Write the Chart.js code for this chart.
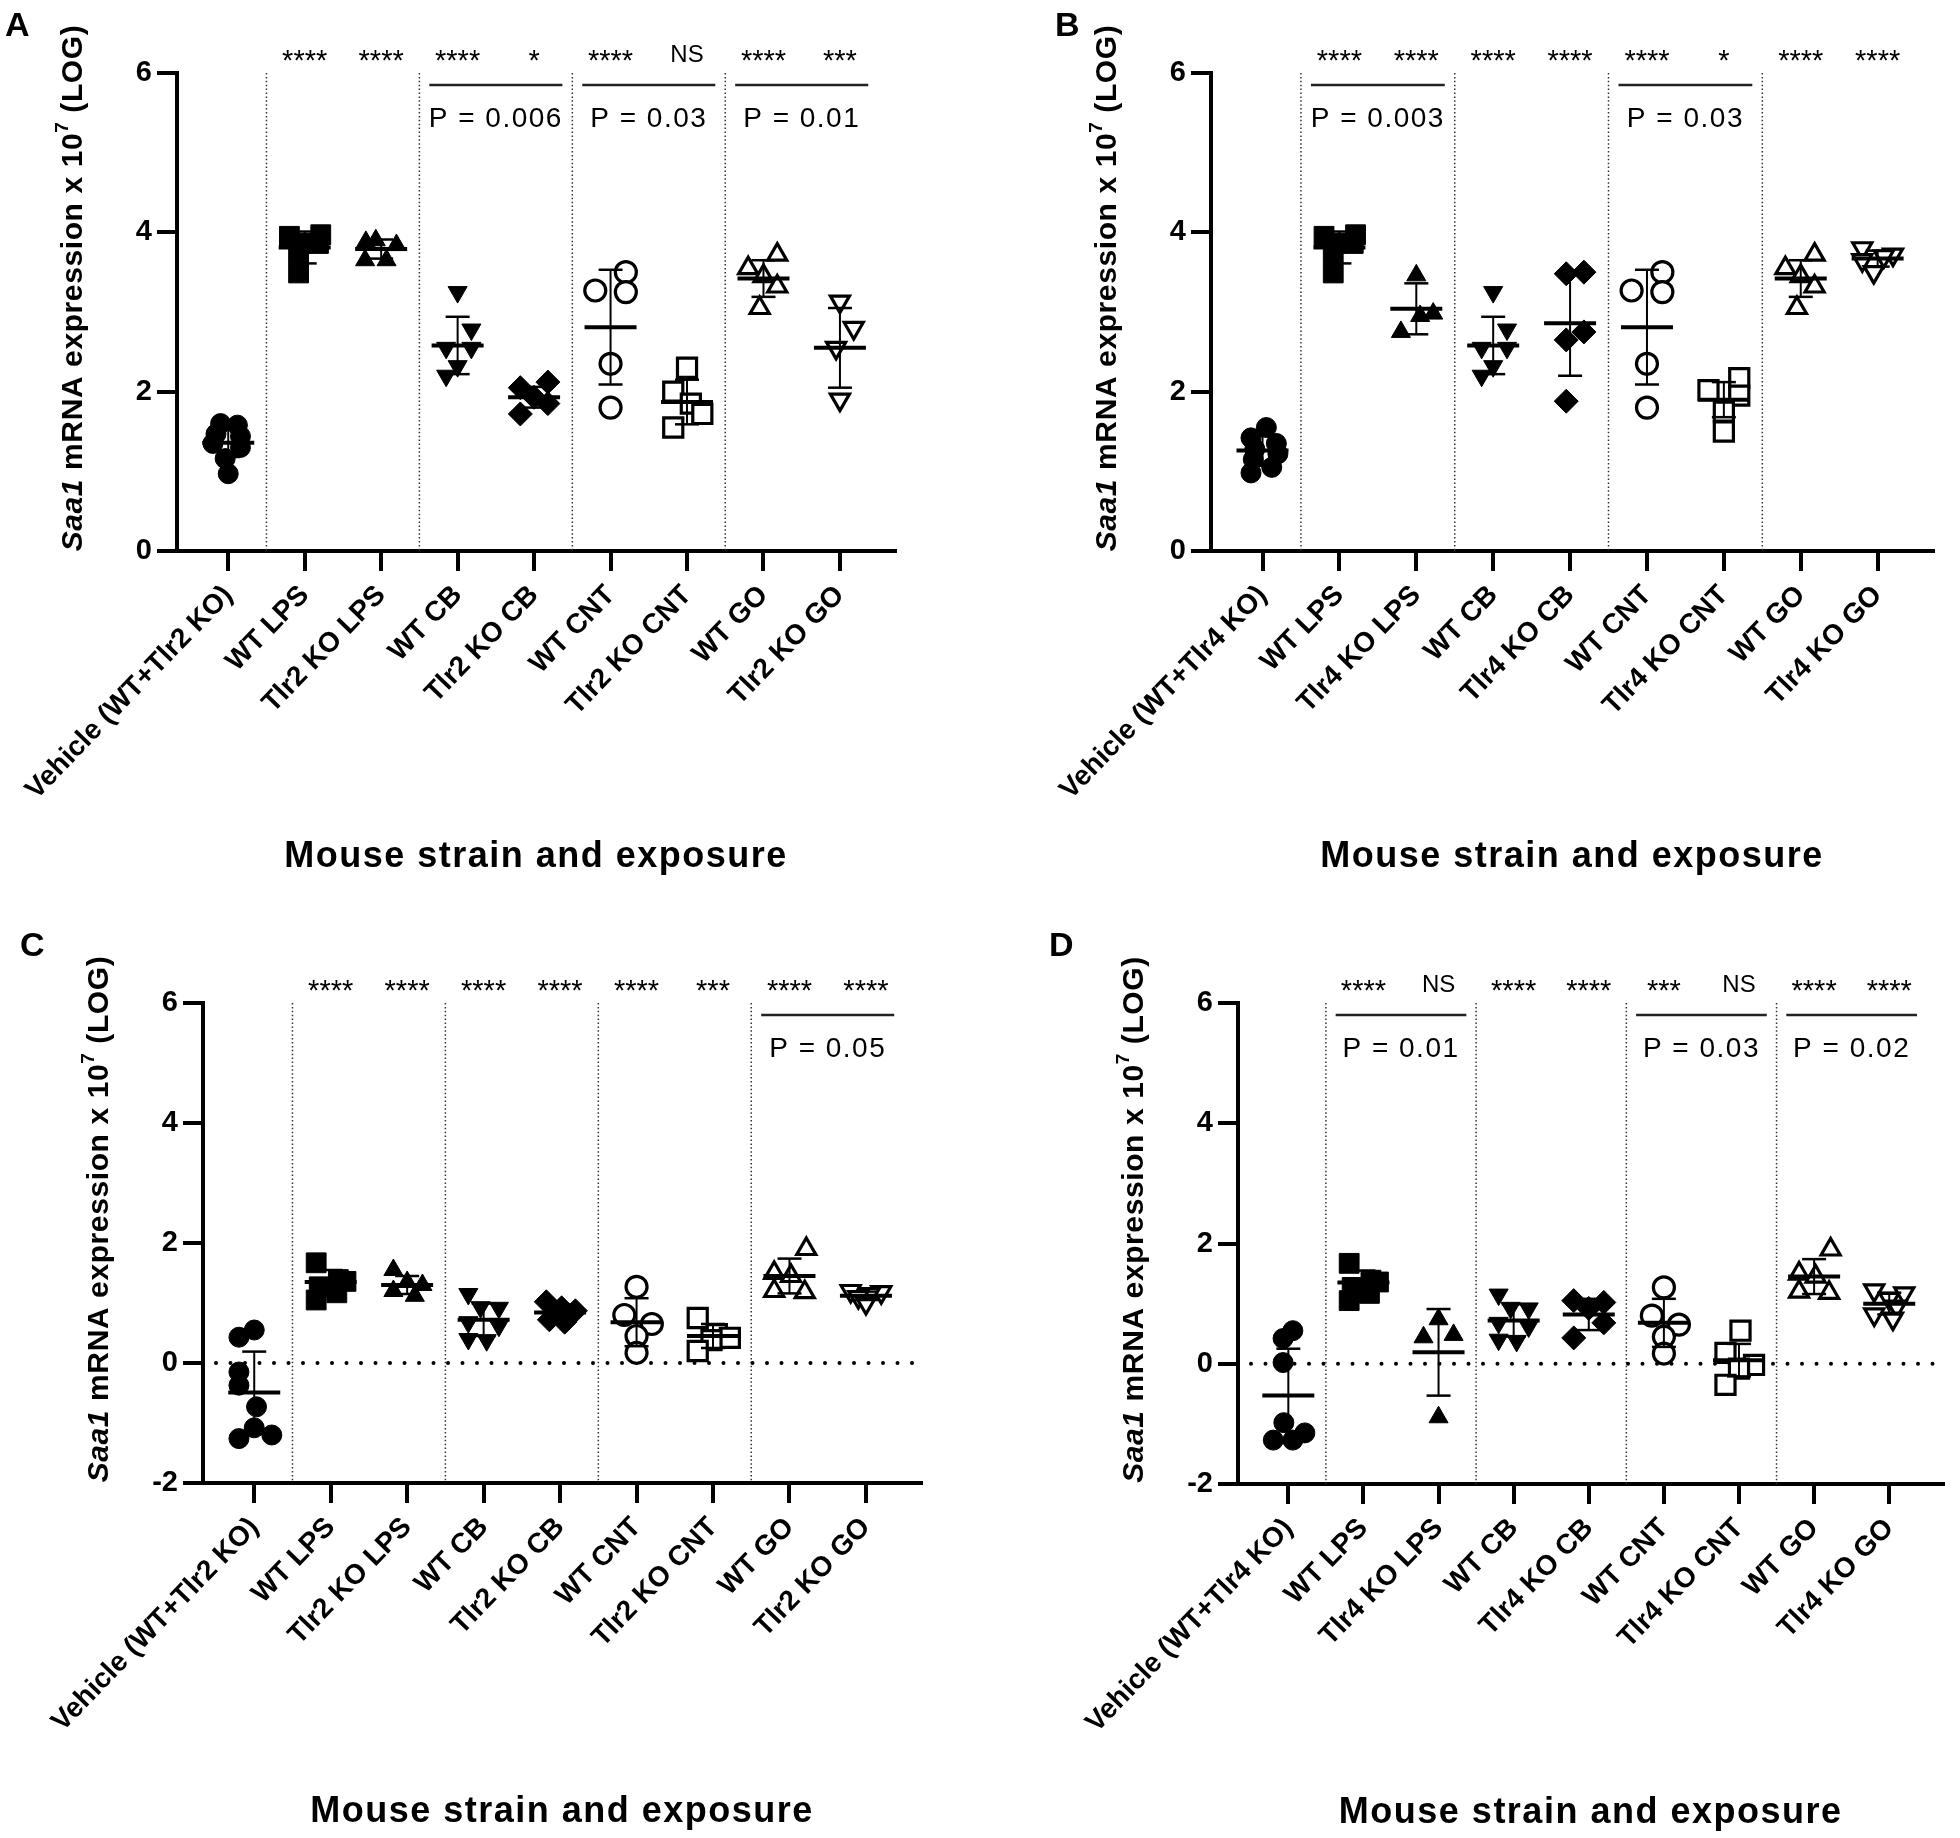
<!DOCTYPE html>
<html>
<head>
<meta charset="utf-8">
<script src="https://cdn.jsdelivr.net/npm/chart.js@4.4.0/dist/chart.umd.min.js"></script>
<style>
  body { margin: 0; background: #fff; width: 1960px; height: 1838px; position: relative; overflow: hidden; }
  canvas { position: absolute; }
</style>
</head>
<body>
<canvas id="panelA" width="980" height="920" style="left:0;top:0"></canvas>
<canvas id="panelB" width="980" height="920" style="left:980px;top:0"></canvas>
<canvas id="panelC" width="980" height="918" style="left:0;top:920px"></canvas>
<canvas id="panelD" width="980" height="918" style="left:980px;top:920px"></canvas>
<script>
const catsTlr2 = ['Vehicle (WT+Tlr2 KO)', 'WT LPS', 'Tlr2 KO LPS', 'WT CB', 'Tlr2 KO CB', 'WT CNT', 'Tlr2 KO CNT', 'WT GO', 'Tlr2 KO GO'];
const catsTlr4 = ['Vehicle (WT+Tlr4 KO)', 'WT LPS', 'Tlr4 KO LPS', 'WT CB', 'Tlr4 KO CB', 'WT CNT', 'Tlr4 KO CNT', 'WT GO', 'Tlr4 KO GO'];

// Panel A - Tlr2
const valsA = [
  [1.60, 1.58, 1.47, 1.44, 1.35, 1.30, 1.16, 0.97],
  [3.95, 3.97, 3.86, 3.86, 3.74, 3.49],
  [3.88, 3.90, 3.84, 3.65, 3.65],
  [3.25, 2.78, 2.55, 2.55, 2.32, 2.20],
  [2.12, 2.05, 1.93, 1.85, 1.72],
  [3.50, 3.27, 3.25, 2.35, 1.80],
  [2.30, 2.00, 1.85, 1.72, 1.55],
  [3.72, 3.55, 3.45, 3.32, 3.05],
  [3.13, 2.80, 2.55, 1.90]
];
const jitA = [
  [-0.10, 0.12, -0.16, 0.16, -0.20, 0.16, -0.04, 0.00],
  [-0.20, 0.21, -0.05, 0.18, -0.08, -0.08],
  [-0.20, -0.07, 0.20, -0.21, 0.07],
  [0.00, 0.18, -0.15, 0.18, 0.00, -0.15],
  [0.18, -0.18, 0.00, 0.18, -0.18],
  [0.20, -0.20, 0.20, 0.00, 0.00],
  [0.00, -0.18, 0.05, 0.20, -0.18],
  [0.18, -0.20, 0.00, 0.18, -0.05],
  [0.00, 0.18, -0.05, 0.00]
];
const meanA = [1.36, 3.81, 3.79, 2.58, 1.93, 2.81, 1.87, 3.42, 2.55];
const sdA = [0.18, 0.20, 0.12, 0.36, 0.13, 0.72, 0.28, 0.23, 0.50];
const starsA = ['', '****', '****', '****', '*', '****', 'NS', '****', '***'];
const barsA = [[3, 4, 'P = 0.006'], [5, 6, 'P = 0.03'], [7, 8, 'P = 0.01']];

// Panel B - Tlr4
const valsB = [
  [1.55, 1.42, 1.35, 1.28, 1.22, 1.15, 1.05, 0.98],
  [3.95, 3.97, 3.86, 3.86, 3.74, 3.49],
  [3.46, 2.98, 2.95, 2.75],
  [3.25, 2.78, 2.55, 2.55, 2.32, 2.20],
  [3.50, 3.48, 2.75, 2.65, 1.88],
  [3.50, 3.27, 3.25, 2.35, 1.80],
  [2.17, 2.02, 1.95, 1.75, 1.50],
  [3.72, 3.55, 3.45, 3.32, 3.05],
  [3.80, 3.72, 3.70, 3.65, 3.50]
];
const jitB = [
  [0.05, -0.15, 0.18, -0.10, 0.20, -0.12, 0.12, -0.15],
  [-0.20, 0.21, -0.05, 0.18, -0.08, -0.08],
  [0.00, 0.22, 0.05, -0.20],
  [0.00, 0.18, -0.15, 0.18, 0.00, -0.15],
  [0.18, -0.05, 0.18, -0.05, -0.05],
  [0.20, -0.20, 0.20, 0.00, 0.00],
  [0.20, -0.20, 0.20, 0.00, 0.00],
  [0.18, -0.20, 0.00, 0.18, -0.05],
  [-0.20, 0.20, 0.08, -0.20, -0.05]
];
const meanB = [1.26, 3.81, 3.04, 2.58, 2.86, 2.81, 1.90, 3.42, 3.67];
const sdB = [0.19, 0.20, 0.32, 0.36, 0.66, 0.72, 0.22, 0.23, 0.10];
const starsB = ['', '****', '****', '****', '****', '****', '*', '****', '****'];
const barsB = [[1, 2, 'P = 0.003'], [5, 6, 'P = 0.03']];

// Panel C - Tlr2
const valsC = [
  [0.55, 0.43, -0.15, -0.37, -0.73, -1.08, -1.26, -1.20],
  [1.67, 1.39, 1.36, 1.27, 1.17, 1.05],
  [1.55, 1.35, 1.30, 1.20, 1.12],
  [1.15, 0.93, 0.92, 0.68, 0.62, 0.40, 0.38],
  [1.02, 0.92, 0.87, 0.72, 0.68],
  [1.27, 0.80, 0.65, 0.45, 0.17],
  [0.75, 0.48, 0.42, 0.38, 0.20],
  [1.90, 1.50, 1.45, 1.20, 1.18],
  [1.20, 1.18, 1.15, 1.10, 1.00]
];
const jitC = [
  [0.00, -0.20, -0.20, -0.20, 0.03, 0.00, -0.20, 0.23],
  [-0.19, 0.10, 0.20, -0.15, 0.08, -0.19],
  [-0.18, 0.00, 0.20, -0.18, 0.10],
  [-0.20, -0.04, 0.20, -0.20, 0.20, -0.20, 0.04],
  [-0.18, 0.02, 0.20, -0.14, 0.06],
  [0.00, -0.16, 0.20, 0.00, 0.00],
  [-0.20, 0.05, 0.22, -0.02, -0.20],
  [0.22, -0.20, 0.02, -0.20, 0.20],
  [-0.20, 0.20, 0.05, -0.10, 0.00]
];
const meanC = [-0.49, 1.35, 1.30, 0.72, 0.84, 0.68, 0.45, 1.45, 1.12];
const sdC = [0.68, 0.20, 0.15, 0.27, 0.14, 0.40, 0.20, 0.29, 0.07];
const starsC = ['', '****', '****', '****', '****', '****', '***', '****', '****'];
const barsC = [[7, 8, 'P = 0.05']];

// Panel D - Tlr4
const valsD = [
  [0.55, 0.42, 0.02, -0.98, -1.15, -1.27, -1.27],
  [1.67, 1.39, 1.36, 1.27, 1.17, 1.05],
  [0.74, 0.48, 0.44, -0.89],
  [1.15, 0.93, 0.92, 0.68, 0.62, 0.40, 0.38],
  [1.05, 1.02, 0.92, 0.68, 0.43],
  [1.27, 0.80, 0.65, 0.45, 0.17],
  [0.55, 0.18, -0.02, -0.08, -0.35],
  [1.90, 1.50, 1.45, 1.20, 1.18],
  [1.22, 1.17, 1.08, 0.95, 0.82, 0.75]
];
const jitD = [
  [0.06, -0.07, -0.07, -0.06, 0.22, -0.20, 0.06],
  [-0.19, 0.10, 0.20, -0.15, 0.08, -0.19],
  [0.00, 0.20, -0.20, 0.00],
  [-0.20, -0.04, 0.20, -0.20, 0.20, -0.20, 0.04],
  [-0.20, 0.20, 0.00, 0.20, -0.20],
  [0.00, -0.16, 0.20, 0.00, 0.00],
  [0.02, -0.18, 0.20, 0.00, -0.18],
  [0.22, -0.20, 0.02, -0.20, 0.20],
  [-0.20, 0.20, 0.00, 0.10, -0.20, 0.05]
];
const meanD = [-0.53, 1.35, 0.19, 0.72, 0.82, 0.68, 0.06, 1.45, 1.00];
const sdD = [0.78, 0.20, 0.72, 0.27, 0.26, 0.40, 0.27, 0.29, 0.18];
const starsD = ['', '****', 'NS', '****', '****', '***', 'NS', '****', '****'];
const barsD = [[1, 2, 'P = 0.01'], [5, 6, 'P = 0.03'], [7, 8, 'P = 0.02']];

// marker look per group (same order in every panel)
const markerStyle = ['circle', 'rect', 'triangle', 'triangle', 'rectRot', 'circle', 'rect', 'triangle', 'triangle'];
const markerRot = [0, 0, 0, 180, 0, 0, 0, 0, 180];
const markerFilled = [true, true, true, true, true, false, false, false, false];
const markerRadius = [10, 14, 11, 11, 12, 10.5, 13.5, 11, 11];

const FONT = "'Liberation Sans', Arial, Helvetica, sans-serif";

function line(ctx, x1, y1, x2, y2) {
  ctx.beginPath();
  ctx.moveTo(x1, y1);
  ctx.lineTo(x2, y2);
  ctx.stroke();
}

const decorPlugin = {
  id: 'decor',
  beforeDatasetsDraw(chart, args, opts) {
    const ctx = chart.ctx, area = chart.chartArea;
    const xs = chart.scales.x, ys = chart.scales.y;
    ctx.save();
    // dotted separators between groups
    ctx.strokeStyle = '#333';
    ctx.lineWidth = 1.5;
    ctx.setLineDash([1.5, 2.4]);
    [0.5, 2.5, 4.5, 6.5].forEach(v => {
      const px = xs.getPixelForValue(v);
      line(ctx, px, area.top, px, area.bottom);
    });
    // dotted zero line
    if (opts.zeroLine) {
      const py = ys.getPixelForValue(0);
      ctx.strokeStyle = '#000';
      ctx.lineWidth = 4;
      ctx.lineCap = 'round';
      ctx.setLineDash([0, 14.5]);
      line(ctx, area.left + 13, py, area.right, py);
    }
    ctx.restore();
  },
  afterDatasetsDraw(chart, args, opts) {
    const ctx = chart.ctx;
    const xs = chart.scales.x, ys = chart.scales.y;
    ctx.save();
    ctx.strokeStyle = '#000';
    opts.means.forEach((m, i) => {
      const cx = xs.getPixelForValue(i);
      const ym = ys.getPixelForValue(m);
      const yt = ys.getPixelForValue(m + opts.sds[i]);
      const yb = ys.getPixelForValue(m - opts.sds[i]);
      ctx.lineWidth = 2;
      line(ctx, cx, yt, cx, yb);
      ctx.lineWidth = 2.5;
      line(ctx, cx - 12, yt, cx + 12, yt);
      line(ctx, cx - 12, yb, cx + 12, yb);
      ctx.lineWidth = 4;
      line(ctx, cx - 26, ym, cx + 26, ym);
    });
    ctx.restore();
  },
  afterDraw(chart, args, opts) {
    const ctx = chart.ctx, area = chart.chartArea;
    const xs = chart.scales.x;
    ctx.save();
    ctx.fillStyle = '#000';
    ctx.textAlign = 'center';
    ctx.textBaseline = 'alphabetic';

    // significance marks
    opts.stars.forEach((s, i) => {
      if (!s) return;
      const cx = xs.getPixelForValue(i);
      if (s === 'NS') {
        ctx.font = '24px ' + FONT;
        ctx.fillText(s, cx, area.top - 11);
      } else {
        ctx.font = '29px ' + FONT;
        ctx.fillText(s, cx, area.top - 3);
      }
    });

    // comparison bars with P values
    opts.bars.forEach(([a, b, txt]) => {
      const mid = (a + b) / 2;
      const x1 = xs.getPixelForValue(a - 0.37), x2 = xs.getPixelForValue(b + 0.37);
      ctx.strokeStyle = '#222';
      ctx.lineWidth = 2.5;
      line(ctx, x1, area.top + 12, x2, area.top + 12);
      ctx.font = '28px ' + FONT;
      ctx.letterSpacing = '1.5px';
      ctx.fillText(txt, xs.getPixelForValue(mid), area.top + 54);
      ctx.letterSpacing = '0px';
    });

    // y axis title with italic gene name and superscript
    const parts = [
      {t: 'Saa1', f: 'italic bold 30px ' + FONT, dy: 0},
      {t: ' mRNA expression x 10', f: 'bold 30px ' + FONT, dy: 0},
      {t: '7', f: 'bold 19px ' + FONT, dy: -11},
      {t: ' (LOG)', f: 'bold 30px ' + FONT, dy: 0}
    ];
    ctx.letterSpacing = '0.6px';
    let total = 0;
    parts.forEach(p => { ctx.font = p.f; p.w = ctx.measureText(p.t).width; total += p.w; });
    ctx.translate(area.left - 103, (area.top + area.bottom) / 2 - 24);
    ctx.rotate(-Math.PI / 2);
    ctx.textAlign = 'left';
    ctx.textBaseline = 'middle';
    let px = -total / 2;
    parts.forEach(p => { ctx.font = p.f; ctx.fillText(p.t, px, p.dy); px += p.w; });
    ctx.setTransform(1, 0, 0, 1, 0, 0);

    // x axis title
    ctx.textAlign = 'center';
    ctx.textBaseline = 'middle';
    ctx.font = 'bold 36px ' + FONT;
    ctx.letterSpacing = '1.5px';
    ctx.fillText('Mouse strain and exposure', (area.left + area.right) / 2, area.bottom + opts.xTitleOffset);
    ctx.letterSpacing = '0px';

    // panel letter
    ctx.textAlign = 'left';
    ctx.textBaseline = 'alphabetic';
    ctx.font = 'bold 34px ' + FONT;
    ctx.fillText(opts.letter, opts.letterX, 36);
    ctx.restore();
  }
};

function makeDatasets(vals, jit) {
  return vals.map((group, i) => ({
    data: group.map((v, j) => ({x: i + jit[i][j], y: v})),
    pointStyle: markerStyle[i],
    rotation: markerRot[i],
    radius: markerRadius[i],
    hoverRadius: markerRadius[i],
    backgroundColor: markerFilled[i] ? '#000' : '#fff',
    borderColor: '#000',
    borderWidth: markerFilled[i] ? 1 : 3.2
  }));
}

function axisGrid() {
  return {drawOnChartArea: false, drawTicks: true, tickLength: 20, tickWidth: 4, lineWidth: 4, color: '#000', tickColor: '#000'};
}

function buildPanel(id, cats, vals, jit, means, sds, stars, bars, cfg) {
  new Chart(document.getElementById(id), {
    type: 'scatter',
    data: {datasets: makeDatasets(vals, jit)},
    options: {
      responsive: false,
      animation: false,
      events: [],
      layout: {padding: cfg.padding},
      plugins: {
        legend: {display: false},
        tooltip: {enabled: false},
        decor: {
          means: means, sds: sds, stars: stars, bars: bars,
          zeroLine: cfg.yMin < 0, xTitleOffset: cfg.xTitleOffset,
          letter: cfg.letter, letterX: cfg.letterX
        }
      },
      scales: {
        x: {
          type: 'linear',
          min: -0.67,
          max: 8.72,
          afterBuildTicks: s => { s.ticks = cats.map((c, i) => ({value: i})); },
          afterFit: s => { s.height = 300; s.paddingLeft = 0; s.paddingRight = 0; },
          grid: axisGrid(),
          border: {display: true, width: 4, color: '#000'},
          ticks: {
            autoSkip: false, minRotation: 46, maxRotation: 46, padding: 8, color: '#000',
            font: {family: FONT, size: 28, weight: 'bold'},
            callback: v => cats[Math.round(v)]
          }
        },
        y: {
          min: cfg.yMin,
          max: 6,
          afterFit: s => { s.width = 100; s.paddingTop = 0; s.paddingBottom = 0; },
          grid: axisGrid(),
          border: {display: true, width: 4, color: '#000'},
          ticks: {stepSize: 2, padding: 5, color: '#000', font: {family: FONT, size: 29, weight: 'bold'}}
        }
      }
    },
    plugins: [decorPlugin]
  });
}

buildPanel('panelA', catsTlr2, valsA, jitA, meanA, sdA, starsA, barsA,
  {padding: {left: 77, top: 73, right: 85, bottom: 69}, yMin: 0, xTitleOffset: 306, letter: 'A', letterX: 5});
buildPanel('panelB', catsTlr4, valsB, jitB, meanB, sdB, starsB, barsB,
  {padding: {left: 131, top: 73, right: 27, bottom: 69}, yMin: 0, xTitleOffset: 306, letter: 'B', letterX: 75});
buildPanel('panelC', catsTlr2, valsC, jitC, meanC, sdC, starsC, barsC,
  {padding: {left: 103, top: 83, right: 59, bottom: 55}, yMin: -2, xTitleOffset: 329, letter: 'C', letterX: 20});
buildPanel('panelD', catsTlr4, valsD, jitD, meanD, sdD, starsD, barsD,
  {padding: {left: 158, top: 83, right: 2, bottom: 54}, yMin: -2, xTitleOffset: 329, letter: 'D', letterX: 69});
</script>
</body>
</html>
